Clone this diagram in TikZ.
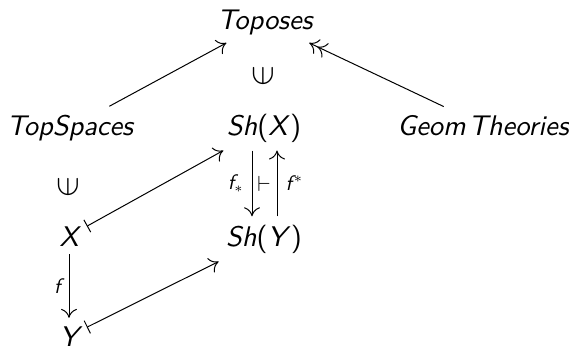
\documentclass[tikz,border=0pt]{standalone}
\usepackage{fontspec}
\setsansfont{lmsans10-regular.otf}[ItalicFont=lmsans10-oblique.otf]
\usepackage{tikz}
\usetikzlibrary{arrows.meta,positioning,calc}

\newcommand{\objfont}{\fontsize{14.2}{17}\selectfont\sffamily\itshape}
\newcommand{\lblfont}{\fontsize{10.5}{13}\selectfont\sffamily\itshape}

\begin{document}
\begin{tikzpicture}[x=0.5pt, y=-0.5pt,
  obj/.style={font=\objfont, inner sep=4pt, anchor=base},
  lbl/.style={font=\lblfont, inner sep=4pt},
  memb/.style={font=\fontsize{17}{19}\selectfont, inner sep=0pt},
  cdto/.style={-{Computer Modern Rightarrow[length=4.5pt,width=8pt]}, line width=0.5pt},
  cdepi/.style={-{Computer Modern Rightarrow[length=4.5pt,width=8pt] Computer Modern Rightarrow[length=4.5pt,width=8pt]}, line width=0.5pt},
  cdmaps/.style={{Bar[width=7pt]}-{Computer Modern Rightarrow[length=4.5pt,width=8pt]}, line width=0.5pt}]
\useasboundingbox (0,0) rectangle (569,349);
% objects
\node[obj] (topos) at (265,29) {Toposes};
\node[obj] (spaces) at (70,135) {TopSpaces};
\node[obj] (shx) at (264,135) {Sh\textup{(}X\textup{)}};
\node[obj] (theories) at (483,135) {Geom\kern1.5pt Theories};
\node[obj] (x) at (69,246) {X};
\node[obj] (shy) at (264,246) {Sh\textup{(}Y\textup{)}};
\node[obj] (y) at (69,346) {Y};
% membership
\node[memb] (intopos) at (263,76) {\rotatebox{90}{$\in$}};
\node[memb] (inspaces) at (68,187) {\rotatebox{90}{$\in$}};
% arrows
\draw[cdto] (spaces) -- (topos);
\draw[cdepi] (theories) -- (topos);
\draw[cdmaps] (x) -- (shx);
\draw[cdmaps] (y) -- (shy);
\draw[cdto] (x) -- node[lbl, left] {f} (y);
\draw[cdto] ([xshift=-6pt]shx.south) -- node[lbl, left] {f$_*$} ([xshift=-6pt]shy.north);
\draw[cdto] ([xshift=6.5pt]shy.north) -- node[lbl, right] {f\kern1pt$^*$} ([xshift=6.5pt]shx.south);
\node[lbl] (adj) at ($(shx.south)!0.5!(shy.north)$) {$\vdash$};
\end{tikzpicture}
\end{document}
